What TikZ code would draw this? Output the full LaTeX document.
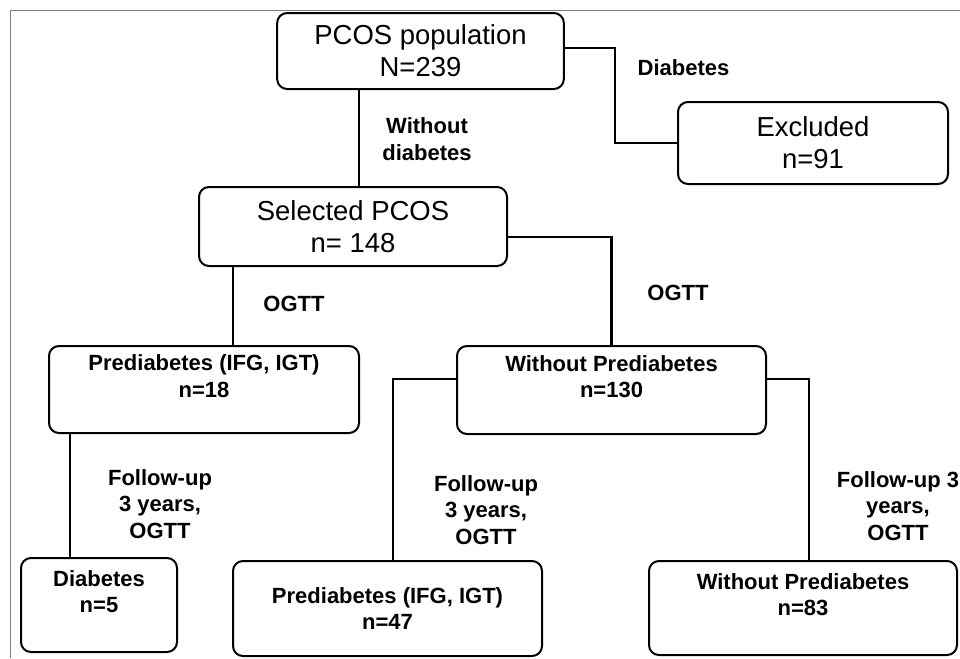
\documentclass[tikz,border=0pt]{standalone}
\usepackage{fontspec}
\setmainfont{Liberation Sans}
\begin{document}
\begin{tikzpicture}[x=0.75pt,y=-0.75pt,
  box/.style={draw, line width=1.5pt, rounded corners=7.5pt, align=center, inner sep=0pt},
  bigbox/.style={box, font=\fontsize{20.6pt}{24pt}\selectfont},
  smallbox/.style={box, font=\bfseries\fontsize{16.5pt}{20pt}\selectfont},
  lbl/.style={align=center, inner sep=0pt, font=\bfseries\fontsize{16.5pt}{20pt}\selectfont},
  conn/.style={line width=1.8pt},
  frame/.style={draw=black!50, line width=0.75pt}]
\useasboundingbox (0,0) rectangle (960,658);
\draw[frame] (10.5,658) -- (10.5,10.5) -- (960,10.5);

% boxes
\node[bigbox, minimum width=215pt, minimum height=57pt] (pcos) at (420.5,51) {PCOS population\\N=239};
\node[bigbox, minimum width=202.5pt, minimum height=61.5pt] (excl) at (813,143) {Excluded\\n=91};
\node[bigbox, minimum width=231pt, minimum height=59.25pt] (sel) at (353,226.5) {Selected PCOS\\n= 148};
\node[smallbox, minimum width=232.5pt, minimum height=65.25pt] (pre18) at (204,389.5) {Prediabetes (IFG, IGT)\\n=18\\\mbox{}};
\node[smallbox, minimum width=231.75pt, minimum height=66pt] (w130) at (611.5,390) {Without Prediabetes\\n=130\\\mbox{}};
\node[smallbox, minimum width=117pt, minimum height=70.5pt] (d5) at (99,605) {Diabetes\\n=5\\\mbox{}};
\node[smallbox, minimum width=231.75pt, minimum height=71.25pt] (p47) at (387.5,608.5) {Prediabetes (IFG, IGT)\\n=47};
\node[smallbox, minimum width=231pt, minimum height=70.5pt] (w83) at (803,608) {Without Prediabetes\\n=83\\\mbox{}};

% helper coordinates
\coordinate (xa) at (359,0);
\coordinate (xb) at (233,0);
\coordinate (yc) at (0,237);
\coordinate (xd) at (70,0);
\coordinate (ye) at (0,379);
\coordinate (xf) at (393,0);
\coordinate (xg) at (809,0);

% connectors
\draw[conn] (pcos.south -| xa) -- (sel.north -| xa);
\draw[conn] (pcos.east |- 0,48) -- ++(50,0) |- (excl.west);
\draw[conn] (sel.south -| xb) -- (pre18.north -| xb);
\draw[conn] (sel.east |- yc) -| (w130.north);
\draw[conn] (pre18.south -| xd) -- (d5.north -| xd);
\draw[conn] (w130.west |- ye) -| (p47.north -| xf);
\draw[conn] (w130.east |- ye) -| (w83.north -| xg);

% labels
\node[lbl] (l1) at (427,139) {Without\\diabetes};
\node[lbl] (l2) at (683.5,68) {Diabetes};
\node[lbl] (l3) at (294,304) {OGTT};
\node[lbl] (l4) at (678,293) {OGTT};
\node[lbl] (l5) at (160,504) {Follow-up\\3 years,\\OGTT};
\node[lbl] (l6) at (486,510) {Follow-up\\3 years,\\OGTT};
\node[lbl] (l7) at (898,506) {Follow-up 3\\years,\\OGTT};
\end{tikzpicture}
\end{document}
